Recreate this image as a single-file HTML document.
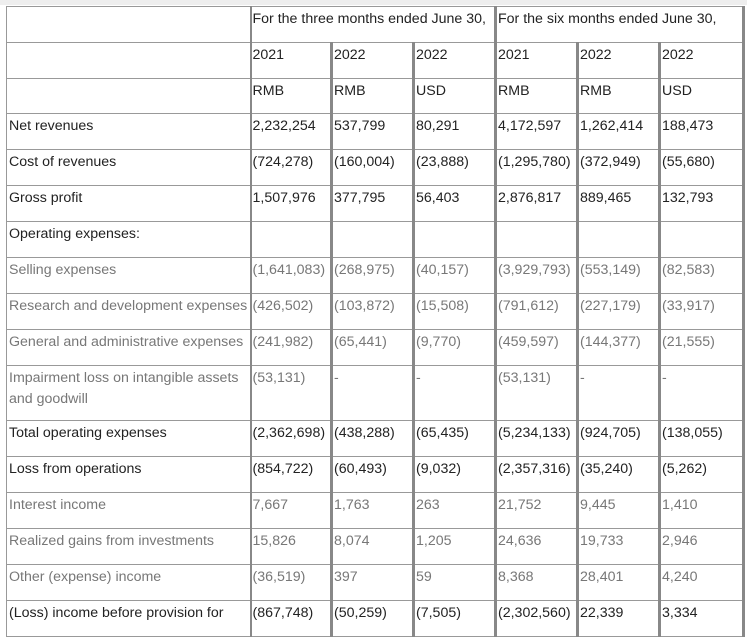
<!DOCTYPE html>
<html><head><meta charset="utf-8"><style>
html,body{margin:0;padding:0;background:#fff;width:747px;height:628px;overflow:hidden;}
.top{position:absolute;left:0;top:0;width:747px;height:5px;background:#eee;}
table{position:absolute;left:6px;top:6px;border-collapse:collapse;table-layout:fixed;width:737px;font-family:"Liberation Sans",sans-serif;font-size:14.2px;color:#222;}
td{border:1px solid #999;vertical-align:top;padding:2px 2px 0 2px;line-height:21px;height:33px;box-sizing:border-box;white-space:nowrap;overflow:hidden;}
td.d{border-left:3px solid #888;padding-left:1px;}
td.d1{border-left:2px solid #888;padding-left:1px;}
tr td:last-child{border-right:3px solid #888;}
.l td{color:#777;}
td.w{white-space:normal;}
</style></head><body>
<div class="top"></div>
<table>
<colgroup><col style="width:244px"><col style="width:81px"><col style="width:82px"><col style="width:82px"><col style="width:82px"><col style="width:82px"><col style="width:84px"></colgroup>
<tr style="height:36px"><td></td><td class="d1" colspan="3">For the three months ended June 30,</td><td class="d" colspan="3">For the six months ended June 30,</td></tr>
<tr style="height:36px"><td></td><td class="d1">2021</td><td class="d">2022</td><td class="d">2022</td><td class="d">2021</td><td class="d">2022</td><td class="d">2022</td></tr>
<tr style="height:35px"><td></td><td class="d1">RMB</td><td class="d">RMB</td><td class="d">USD</td><td class="d">RMB</td><td class="d">RMB</td><td class="d">USD</td></tr>
<tr style="height:36px"><td>Net revenues</td><td class="d1">2,232,254</td><td class="d">537,799</td><td class="d">80,291</td><td class="d">4,172,597</td><td class="d">1,262,414</td><td class="d">188,473</td></tr>
<tr style="height:36px"><td>Cost of revenues</td><td class="d1">(724,278)</td><td class="d">(160,004)</td><td class="d">(23,888)</td><td class="d">(1,295,780)</td><td class="d">(372,949)</td><td class="d">(55,680)</td></tr>
<tr style="height:36px"><td>Gross profit</td><td class="d1">1,507,976</td><td class="d">377,795</td><td class="d">56,403</td><td class="d">2,876,817</td><td class="d">889,465</td><td class="d">132,793</td></tr>
<tr style="height:36px"><td>Operating expenses:</td><td class="d1"></td><td class="d"></td><td class="d"></td><td class="d"></td><td class="d"></td><td class="d"></td></tr>
<tr class="l" style="height:36px"><td>Selling expenses</td><td class="d1">(1,641,083)</td><td class="d">(268,975)</td><td class="d">(40,157)</td><td class="d">(3,929,793)</td><td class="d">(553,149)</td><td class="d">(82,583)</td></tr>
<tr class="l" style="height:36px"><td>Research and development expenses</td><td class="d1">(426,502)</td><td class="d">(103,872)</td><td class="d">(15,508)</td><td class="d">(791,612)</td><td class="d">(227,179)</td><td class="d">(33,917)</td></tr>
<tr class="l" style="height:36px"><td>General and administrative expenses</td><td class="d1">(241,982)</td><td class="d">(65,441)</td><td class="d">(9,770)</td><td class="d">(459,597)</td><td class="d">(144,377)</td><td class="d">(21,555)</td></tr>
<tr class="l" style="height:55px"><td class="w">Impairment loss on intangible assets<br>and goodwill</td><td class="d1">(53,131)</td><td class="d">-</td><td class="d">-</td><td class="d">(53,131)</td><td class="d">-</td><td class="d">-</td></tr>
<tr style="height:36px"><td>Total operating expenses</td><td class="d1">(2,362,698)</td><td class="d">(438,288)</td><td class="d">(65,435)</td><td class="d">(5,234,133)</td><td class="d">(924,705)</td><td class="d">(138,055)</td></tr>
<tr style="height:36px"><td>Loss from operations</td><td class="d1">(854,722)</td><td class="d">(60,493)</td><td class="d">(9,032)</td><td class="d">(2,357,316)</td><td class="d">(35,240)</td><td class="d">(5,262)</td></tr>
<tr class="l" style="height:36px"><td>Interest income</td><td class="d1">7,667</td><td class="d">1,763</td><td class="d">263</td><td class="d">21,752</td><td class="d">9,445</td><td class="d">1,410</td></tr>
<tr class="l" style="height:36px"><td>Realized gains from investments</td><td class="d1">15,826</td><td class="d">8,074</td><td class="d">1,205</td><td class="d">24,636</td><td class="d">19,733</td><td class="d">2,946</td></tr>
<tr class="l" style="height:36px"><td>Other (expense) income</td><td class="d1">(36,519)</td><td class="d">397</td><td class="d">59</td><td class="d">8,368</td><td class="d">28,401</td><td class="d">4,240</td></tr>
<tr style="height:36px"><td>(Loss) income before provision for</td><td class="d1">(867,748)</td><td class="d">(50,259)</td><td class="d">(7,505)</td><td class="d">(2,302,560)</td><td class="d">22,339</td><td class="d">3,334</td></tr>
</table>
</body></html>
